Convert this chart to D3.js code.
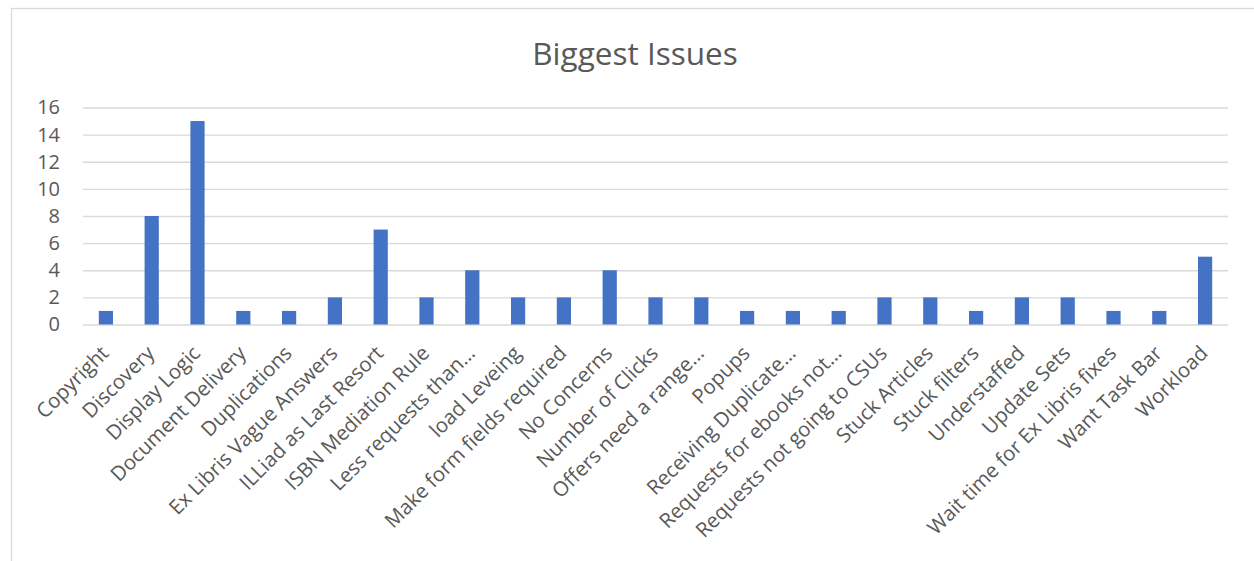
<!DOCTYPE html>
<html><head><meta charset="utf-8">
<script src="https://cdn.jsdelivr.net/npm/d3@7"></script>
<style>
html,body{margin:0;padding:0;background:#fff;}
svg{display:block;font-family:"Open Sans","Noto Sans",sans-serif;}
</style></head>
<body><svg id="c" width="1254" height="561"></svg>
<script>
const categories = ["Copyright","Discovery","Display Logic","Document Delivery","Duplications","Ex Libris Vague Answers","ILLiad as Last Resort","ISBN Mediation Rule","Less requests than…","load Leveing","Make form fields required","No Concerns","Number of Clicks","Offers need a range…","Popups","Receiving Duplicate…","Requests for ebooks not…","Requests not going to CSUs","Stuck Articles","Stuck filters","Understaffed","Update Sets","Wait time for Ex Libris fixes","Want Task Bar","Workload"];
const values = [1,8,15,1,1,2,7,2,4,2,2,4,2,2,1,1,1,2,2,1,2,2,1,1,5];
const yTicks = [0,2,4,6,8,10,12,14,16];
const title = "Biggest Issues";

const svg = d3.select("#c");
const W = 1254, H = 561;
const m = {left:83, right:1228, top:107.5, bottom:324.5};

// frame
svg.append("rect").attr("x",11.5).attr("y",8.5).attr("width",W+10).attr("height",H+10)
  .attr("fill","#fff").attr("stroke","#d9d9d9").attr("stroke-width",1.3);

const x = d3.scaleBand().domain(categories).range([m.left,m.right]).paddingInner(0.69).paddingOuter(0.345);
const y = d3.scaleLinear().domain([0,16]).range([m.bottom,m.top]);

// gridlines
const yAxis = d3.axisLeft(y).tickValues(yTicks).tickSize(-(m.right-m.left)).tickPadding(23);
const ga = svg.append("g").attr("transform",`translate(${m.left},0)`).call(yAxis);
ga.select(".domain").remove();
ga.selectAll(".tick line").attr("stroke","#d9d9d9").attr("stroke-width",1.3);
ga.selectAll(".tick text").attr("fill","#595959").attr("font-size",20).attr("font-family","'Open Sans','Noto Sans',sans-serif");

// bars
svg.append("g").selectAll("rect").data(values).join("rect")
  .attr("x",(d,i)=>x(categories[i]))
  .attr("width",x.bandwidth())
  .attr("y",d=>y(d))
  .attr("height",d=>y(0)-y(d))
  .attr("fill","#4472C4");

// x axis labels
const xAxis = d3.axisBottom(x).tickSize(0).tickPadding(0);
const gx = svg.append("g").attr("transform",`translate(0,${m.bottom})`).call(xAxis);
gx.select(".domain").remove();
gx.selectAll(".tick text")
  .attr("fill","#595959").attr("font-size",20.4).attr("font-family","'Open Sans','Noto Sans',sans-serif")
  .attr("text-anchor","end").attr("dy",null).attr("y",0)
  .attr("transform","translate(4,30) rotate(-45)");

// title
svg.append("text").attr("x",635).attr("y",65).attr("text-anchor","middle")
  .attr("font-size",31.5).attr("fill","#595959").text(title);
</script></body></html>
